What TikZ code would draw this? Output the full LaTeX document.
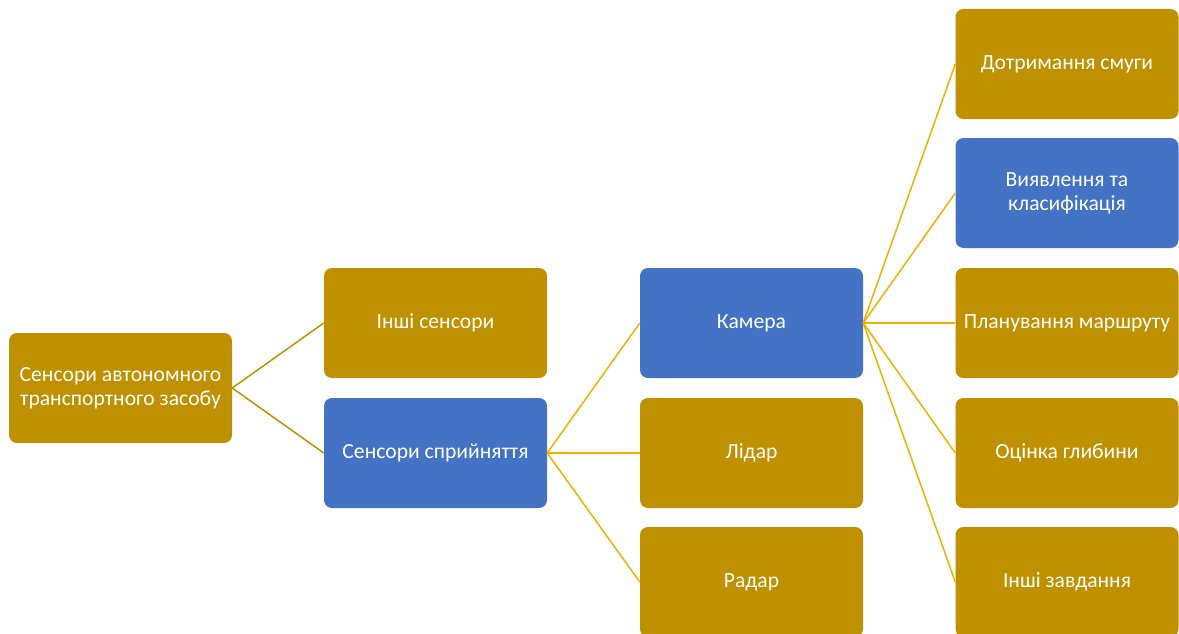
\documentclass[tikz,border=0pt]{standalone}
\usepackage{fontspec}
\setmainfont{Carlito}
\definecolor{goldbox}{HTML}{BF9000}
\definecolor{bluebox}{HTML}{4472C4}
\definecolor{linkgold}{HTML}{BF9000}
\definecolor{linkamber}{HTML}{F0B000}
\begin{document}
\begin{tikzpicture}[x=1pt,y=-1pt,
  box/.style={rounded corners=8pt, minimum width=223pt, minimum height=110pt,
    inner sep=2pt, text=white, align=center, font=\fontsize{21.6}{24}\selectfont},
  gold/.style={box, fill=goldbox},
  blue/.style={box, fill=bluebox},
  linkA/.style={draw=linkgold, line width=1.5pt},
  linkB/.style={draw=linkamber, line width=1.5pt}]
\useasboundingbox (0,0) rectangle (1179,634);
% level 0
\node[gold] (root) at (120.5,388) {Сенсори автономного\\транспортного засобу};
% level 1
\node[gold] (other) at (435.5,323) {Інші сенсори};
\node[blue] (perc) at (435.5,453) {Сенсори сприйняття};
% level 2
\node[blue] (cam) at (751.5,323) {Камера};
\node[gold] (lidar) at (751.5,453) {Лідар};
\node[gold] (radar) at (751.5,582) {Радар};
% level 3
\node[gold] (lane) at (1067,64) {Дотримання смуги};
\node[blue] (detect) at (1067,193) {Виявлення та\\класифікація};
\node[gold] (route) at (1067,323) {Планування маршруту};
\node[gold] (depth) at (1067,453) {Оцінка глибини};
\node[gold] (tasks) at (1067,582) {Інші завдання};
% connectors
\draw[linkA] (root.east) -- (other.west);
\draw[linkA] (root.east) -- (perc.west);
\foreach \t in {cam,lidar,radar} \draw[linkB] (perc.east) -- (\t.west);
\foreach \t in {lane,detect,route,depth,tasks} \draw[linkB] (cam.east) -- (\t.west);
\end{tikzpicture}
\end{document}
